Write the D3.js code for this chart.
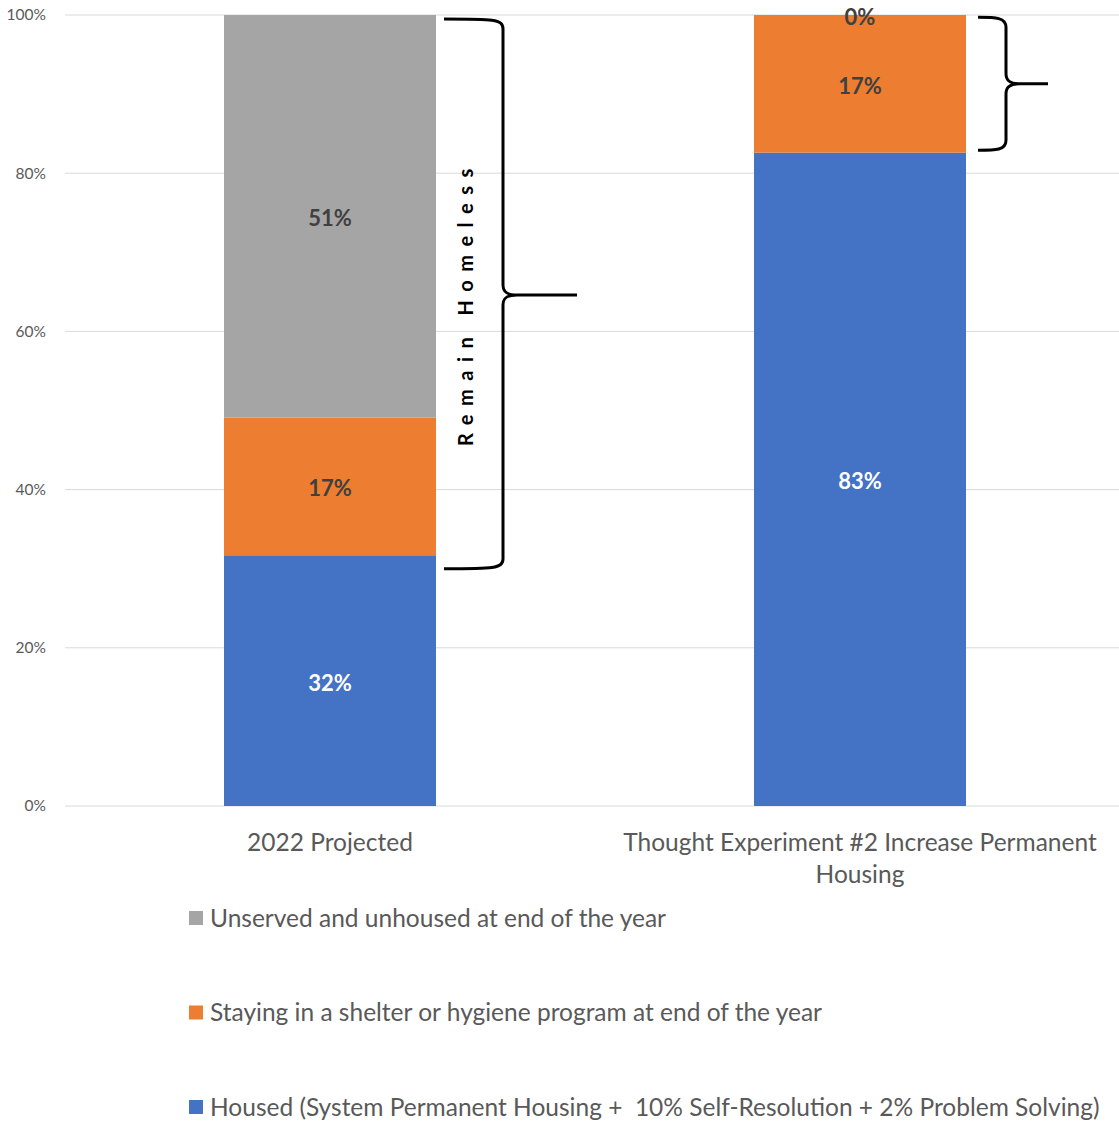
<!DOCTYPE html>
<html>
<head>
<meta charset="utf-8">
<script src="https://cdn.jsdelivr.net/npm/d3@7"></script>
<style>
  body { margin: 0; background: #fff; }
  svg { display: block; }
</style>
</head>
<body>
<div id="chart"></div>
<script>
// ----------------------------------
// DATA
// ----------------------------------
const categories = ['2022 Projected', 'Thought Experiment #2 Increase Permanent Housing'];
const categoryLines = [['2022 Projected'], ['Thought Experiment #2 Increase Permanent', 'Housing']];
const seriesNames = [
  'Housed (System Permanent Housing +  10% Self-Resolution + 2% Problem Solving)',
  'Staying in a shelter or hygiene program at end of the year',
  'Unserved and unhoused at end of the year'
];
const housed = [0.317, 0.826];
const shelter = [0.174, 0.174];
const unserved = [0.509, 0.0];
const yTicks = [0, 0.2, 0.4, 0.6, 0.8, 1.0];
const colors = ['#4472c4', '#ed7d31', '#a5a5a5'];
const labelColors = ['#ffffff', '#404040', '#404040'];

// brace annotations, in data units
const braces = [
  {cat: 0, from: 0.30, to: 0.995, tip: 0.646, text: 'Remain Homeless'},
  {cat: 1, from: 0.829, to: 0.997, tip: 0.913, text: ''}
];

const width = 1119, height = 1121;
const margin = {top: 15, right: 0, bottom: 315, left: 65};
const innerHeight = height - margin.top - margin.bottom;
const font = 'Lato, "Open Sans", sans-serif';

const series = [housed, shelter, unserved];
const table = categories.map((c, i) => {
  const row = {cat: c};
  seriesNames.forEach((s, j) => row[s] = series[j][i]);
  return row;
});
const stacked = d3.stack().keys(seriesNames)(table);

const svg = d3.select('#chart').append('svg')
  .attr('width', width)
  .attr('height', height);

// ----------------------------------
// SCALES
// ----------------------------------
const x = d3.scaleBand()
  .domain(categories)
  .range([margin.left, margin.left + 1060])
  .paddingInner(0.6)
  .paddingOuter(0.3);

const y = d3.scaleLinear()
  .domain([0, 1])
  .range([margin.top + innerHeight, margin.top]);

// gridlines
svg.append('g').selectAll('line')
  .data(yTicks)
  .enter().append('line')
    .attr('x1', margin.left)
    .attr('x2', width)
    .attr('y1', d => y(d))
    .attr('y2', d => y(d))
    .attr('stroke', '#d9d9d9')
    .attr('stroke-width', 1);

// y axis labels
const yAxis = d3.axisLeft(y).tickValues(yTicks).tickFormat(d3.format('.0%')).tickSize(0).tickPadding(19);
const yg = svg.append('g')
  .attr('transform', `translate(${margin.left},0)`)
  .call(yAxis);
yg.select('.domain').remove();
yg.selectAll('text')
  .style('font-family', font)
  .style('font-size', '15.5px')
  .attr('fill', '#595959');

// ----------------------------------
// BARS
// ----------------------------------
const layers = svg.append('g').selectAll('g')
  .data(stacked)
  .enter().append('g')
    .attr('fill', (d, i) => colors[i]);

layers.selectAll('rect')
  .data(d => d)
  .enter().append('rect')
    .attr('x', d => x(d.data.cat))
    .attr('width', x.bandwidth())
    .attr('y', d => y(d[1]))
    .attr('height', d => y(d[0]) - y(d[1]));

// data labels
stacked.forEach((layer, i) => {
  svg.append('g').selectAll('text')
    .data(layer)
    .enter().append('text')
      .attr('x', d => x(d.data.cat) + x.bandwidth() / 2)
      .attr('y', d => (y(d[0]) + y(d[1])) / 2)
      .attr('dy', '0.45em')
      .attr('text-anchor', 'middle')
      .style('font-family', font)
      .style('font-size', '22px')
      .style('font-weight', 'bold')
      .attr('fill', labelColors[i])
      .text(d => d3.format('.0%')(d[1] - d[0]));
});

// category labels
categoryLines.forEach((lines, i) => {
  const t = svg.append('text')
    .attr('x', x(categories[i]) + x.bandwidth() / 2)
    .attr('y', y(0) + 45)
    .attr('text-anchor', 'middle')
    .style('font-family', font)
    .style('font-size', '24.5px')
    .attr('fill', '#595959');
  lines.forEach((l, k) => {
    t.append('tspan')
      .attr('x', x(categories[i]) + x.bandwidth() / 2)
      .attr('dy', k === 0 ? 0 : 32)
      .text(l);
  });
});

// ----------------------------------
// BRACES
// ----------------------------------
braces.forEach((b, i) => {
  const x0 = x(categories[b.cat]) + x.bandwidth() + (i === 0 ? 8 : 12);
  const xs = x0 + (i === 0 ? 59 : 28);
  const xt = xs + (i === 0 ? 74 : 42);
  const top = y(b.to), bot = y(b.from), tip = y(b.tip);
  const r = 10;
  const p = d3.path();
  p.moveTo(x0, top);
  p.bezierCurveTo(xs - r, top, xs, top, xs, top + r);
  p.lineTo(xs, tip - r);
  p.bezierCurveTo(xs, tip - 3, xs + 4, tip, xs + 14, tip);
  p.lineTo(xt, tip);
  p.moveTo(xs + 14, tip);
  p.bezierCurveTo(xs + 4, tip, xs, tip + 3, xs, tip + r);
  p.lineTo(xs, bot - r);
  p.bezierCurveTo(xs, bot, xs - r, bot, x0, bot);
  svg.append('path')
    .attr('d', p.toString())
    .attr('fill', 'none')
    .attr('stroke', '#000')
    .attr('stroke-width', 3);

  if (b.text) {
    const cx = x0 + 22, cy = tip + 8;
    svg.append('text')
      .attr('transform', `translate(${cx},${cy}) rotate(-90)`)
      .attr('text-anchor', 'middle')
      .attr('dy', '0.35em')
      .style('font-family', font)
      .style('font-size', '20px')
      .style('font-weight', 'bold')
      .style('letter-spacing', '8.5px')
      .attr('fill', '#000')
      .text(b.text);
  }
});

// ----------------------------------
// LEGEND (reverse order, stacked vertically)
// ----------------------------------
const legendOrder = [2, 1, 0];
const legend = svg.append('g').selectAll('g')
  .data(legendOrder)
  .enter().append('g')
    .attr('transform', (d, k) => `translate(189,${918 + k * 94.5})`);

legend.append('rect')
  .attr('x', 0)
  .attr('y', -7)
  .attr('width', 14)
  .attr('height', 14)
  .attr('fill', d => colors[d]);

legend.append('text')
  .attr('x', 21)
  .attr('dy', '0.35em')
  .style('font-family', font)
  .style('font-size', '24.5px')
  .style('white-space', 'pre')
  .attr('fill', '#595959')
  .text(d => seriesNames[d]);
</script>
</body>
</html>
